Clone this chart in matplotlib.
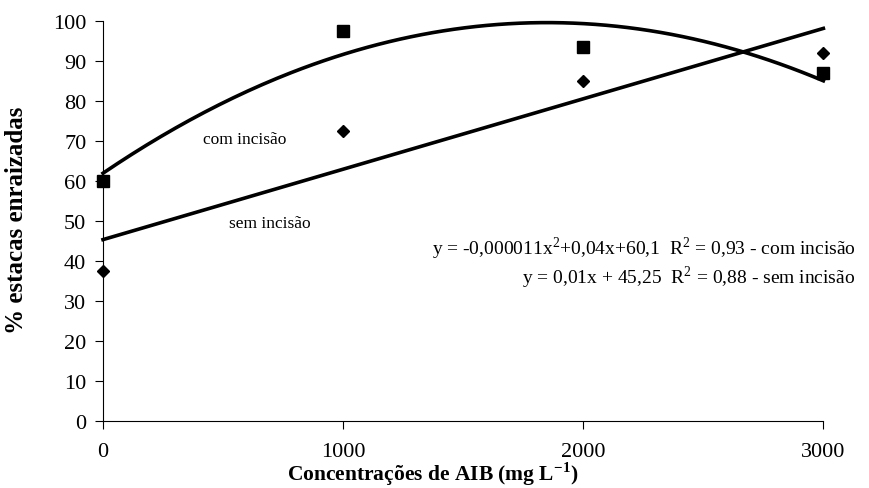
import matplotlib
matplotlib.use('Agg')
import matplotlib.pyplot as plt
import numpy as np

# dados
aib = [0, 1000, 2000, 3000]
com_incisao = [60.0, 97.5, 93.5, 87.0]
sem_incisao = [37.5, 72.5, 85.0, 92.0]
y_ticks = [0, 10, 20, 30, 40, 50, 60, 70, 80, 90, 100]
x_ticks = [0, 1000, 2000, 3000]

plt.rcParams['font.family'] = ['Liberation Serif', 'DejaVu Serif']

fig = plt.figure(figsize=(8.7, 4.89), dpi=100)
ax = fig.add_axes([0.1184, 0.137, 0.828, 0.818])

# linhas de tendencia (ajuste polinomial / linear)
xs = np.linspace(0, 3000, 200)
c2 = np.polyfit(aib, com_incisao, 2)
c1 = np.polyfit(aib, sem_incisao, 1)
ax.plot(xs, np.polyval(c2, xs), color='black', lw=2.6, clip_on=False)
ax.plot(xs, np.polyval(c1, xs), color='black', lw=2.6, clip_on=False)

ax.plot(aib, com_incisao, 's', color='black', ms=9, clip_on=False, zorder=5)
ax.plot(aib, sem_incisao, 'D', color='black', ms=6.5, clip_on=False, zorder=5)

ax.set_xlim(0, 3000)
ax.set_ylim(0, 100)
ax.set_xticks(x_ticks)
ax.set_yticks(y_ticks)
ax.tick_params(labelsize=16, length=6, width=0.8, direction='out', colors='black')
ax.tick_params(axis='x', pad=9)
ax.tick_params(axis='y', pad=6)
ax.spines['top'].set_visible(False)
ax.spines['right'].set_visible(False)
ax.spines['left'].set_linewidth(0.8)
ax.spines['bottom'].set_linewidth(0.8)

ax.set_ylabel('% estacas enraizadas', fontsize=18, fontweight='bold')
ax.set_xlabel('Concentrações de AIB (mg L$^{\\mathregular{-1}}$)', fontsize=15.5, fontweight='bold')
ax.yaxis.set_label_coords(-0.104, 0.505)
ax.xaxis.set_label_coords(0.458, -0.096)

ax.text(590, 70.5, 'com incisão', fontsize=12.5, ha='center', va='center')
ax.text(696, 49.5, 'sem incisão', fontsize=12.5, ha='center', va='center')

ax.text(3133, 43.25, 'y = -0,000011x$^{\\mathregular{2}}$+0,04x+60,1  R$^{\\mathregular{2}}$ = 0,93 - com incisão',
        fontsize=14, ha='right', va='center')
ax.text(3133, 36, 'y = 0,01x + 45,25  R$^{\\mathregular{2}}$ = 0,88 - sem incisão',
        fontsize=14, ha='right', va='center')

fig.savefig('out.png', dpi=100)
